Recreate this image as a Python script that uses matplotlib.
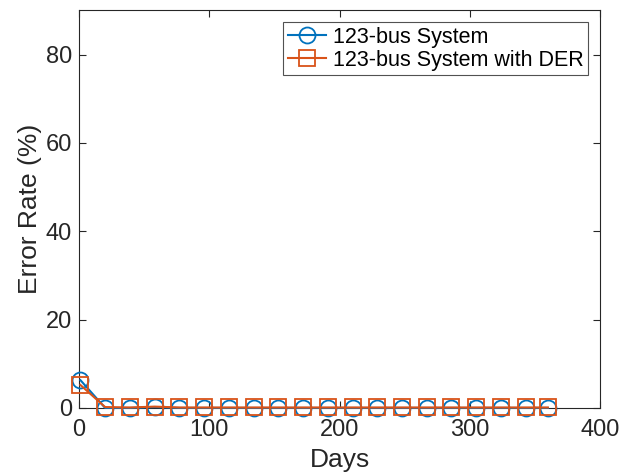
import matplotlib
matplotlib.use("Agg")
import matplotlib.pyplot as plt

plt.rcParams['font.family'] = ['Liberation Sans', 'DejaVu Sans']

# Données
days = [1, 20, 39, 58, 77, 96, 115, 134, 153, 172, 191, 210, 229, 248, 267,
        286, 305, 324, 343, 360]
err_base = [6.3, 0.0, 0.0, 0.2, 0.0, 0.0, 0.0, 0.0, 0.0, 0.0, 0.0, 0.0, 0.0,
            0.0, 0.0, 0.0, 0.0, 0.0, 0.0, 0.0]
err_der = [5.2, 0.2, 0.1, 0.3, 0.1, 0.1, 0.1, 0.1, 0.1, 0.1, 0.1, 0.1, 0.1,
           0.1, 0.1, 0.1, 0.1, 0.1, 0.1, 0.1]

labels = ['123-bus System', '123-bus System with DER']
c_blue = '#0072BD'
c_orange = '#D95319'

fig = plt.figure(figsize=(6.43, 4.76), dpi=100)
ax = fig.add_axes([0.123, 0.143, 0.81, 0.835])

ax.plot(days, err_base, '-o', color=c_blue, mfc='none', ms=11.5, mew=1.3,
        lw=1.5, label=labels[0], clip_on=False, zorder=3)
ax.plot(days, err_der, '-s', color=c_orange, mfc='none', ms=11, mew=1.3,
        lw=1.5, label=labels[1], clip_on=False, zorder=4)

ax.set_xlim(0, 400)
ax.set_ylim(0, 90)
ax.set_xticks([0, 100, 200, 300, 400])
ax.set_yticks([0, 20, 40, 60, 80])
ax.tick_params(direction='in', labelsize=17, colors='#262626', length=5,
               top=True, right=True)
ax.tick_params(axis='x', pad=8)
ax.tick_params(axis='y', pad=5)
for s in ax.spines.values():
    s.set_color('#262626')
    s.set_linewidth(0.8)

ax.set_xlabel('Days', fontsize=19, color='#262626', labelpad=5)
ax.set_ylabel('Error Rate (%)', fontsize=19, color='#262626', labelpad=3)

leg = ax.legend(loc='upper right', fontsize=15.5, frameon=True, fancybox=False,
                edgecolor='#262626', borderpad=0.2, handlelength=1.8,
                handletextpad=0.3, labelspacing=0.1, borderaxespad=0,
                bbox_to_anchor=(0.977, 0.97))
leg.get_frame().set_linewidth(0.8)

fig.savefig('out.png', dpi=100)
